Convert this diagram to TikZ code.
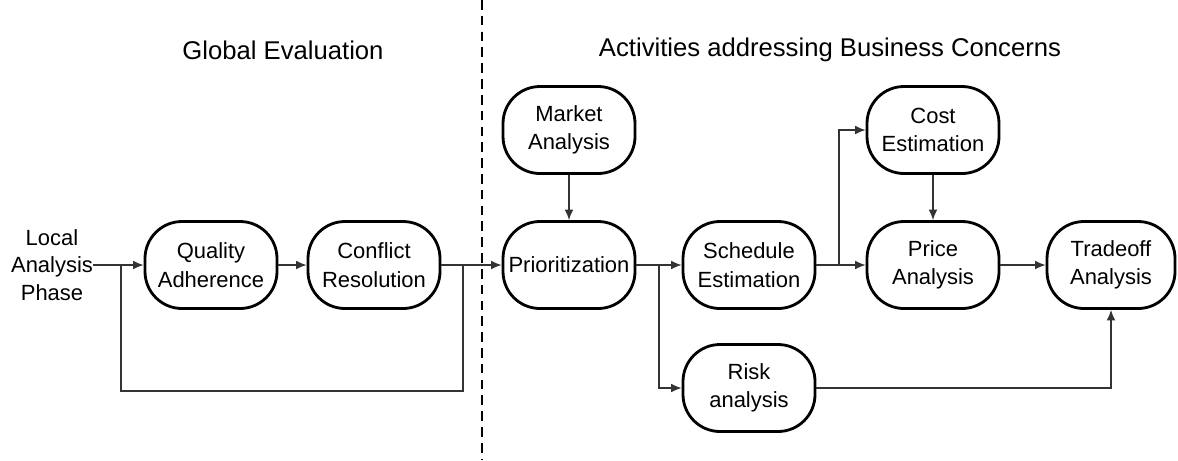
\documentclass[tikz,border=0pt]{standalone}
\usepackage{fontspec}
\setmainfont{Liberation Sans}
\usepackage{tikz}
\usetikzlibrary{positioning, arrows.meta}

\begin{document}
\begin{tikzpicture}[main/.style={draw, rectangle, rounded corners=0.74cm, minimum width=2.64cm, minimum height=1.74cm, line width=1.6pt, align=center, font=\fontsize{12.5}{16.2}\selectfont, inner sep=1pt}, info/.style={align=center, font=\fontsize{12.5}{15.6}\selectfont, inner sep=0pt}, title/.style={font=\fontsize{14.6}{17}\selectfont}, n/.style={-{Latex[length=6pt, width=5pt]}, line width=0.7pt, draw=black!80}, l/.style={line width=0.7pt, draw=black!80}]
            \useasboundingbox (0,0) rectangle (23.56,-9.2);
            % nodes
            \node[title] (glob) at (5.66,-1.0) {Global Evaluation};
            \node[title] (act) at (16.6,-1.0) {Activities addressing Business Concerns};

            \node[info] (local) at (1.04,-5.3) {Local\\Analysis\\Phase};
            \node[main] (qual) at (4.22,-5.3) {Quality\\Adherence};
            \node[main] (conf) at (7.48,-5.3) {Conflict\\Resolution};

            \node[main] (market) at (11.38,-2.6) {Market\\Analysis};
            \node[main] (prio) at (11.38,-5.3) {Prioritization};
            \node[main] (sched) at (14.98,-5.3) {Schedule\\Estimation};
            \node[main] (risk) at (14.98,-7.76) {Risk\\analysis};
            \node[main] (cost) at (18.66,-2.6) {Cost\\Estimation};
            \node[main] (price) at (18.66,-5.3) {Price\\Analysis};
            \node[main, minimum width=2.56cm] (trade) at (22.22,-5.3) {Tradeoff\\Analysis};

            \coordinate (fbl) at (2.42,-5.3);
            \coordinate (fbr) at (9.26,-5.3);
            \coordinate (fbbot) at (2.42,-7.82);
            \coordinate (split1) at (13.18,-5.3);
            \coordinate (split2) at (16.78,-5.3);
            \coordinate (dtop) at (9.64,0);
            \coordinate (dbot) at (9.64,-9.2);
            % edges
            \draw [dashed, line width=0.8pt, dash pattern=on 5.5pt off 3.5pt] (dtop) -- (dbot);

            \draw [n] (local) -- (qual);
            \draw [n] (qual) -- (conf);
            \draw [l] (fbr) |- (fbbot) -- (fbl);
            \draw [n] (conf) -- (prio);

            \draw [n] (market) -- (prio);
            \draw [n] (prio) -- (sched);
            \draw [n] (split1) |- (risk.west);
            \draw [n] (sched) -- (price);
            \draw [n] (split2) |- (cost.west);
            \draw [n] (cost) -- (price);
            \draw [n] (price) -- (trade);
            \draw [n] (risk.east) -| (trade.south);
        \end{tikzpicture}
\end{document}
